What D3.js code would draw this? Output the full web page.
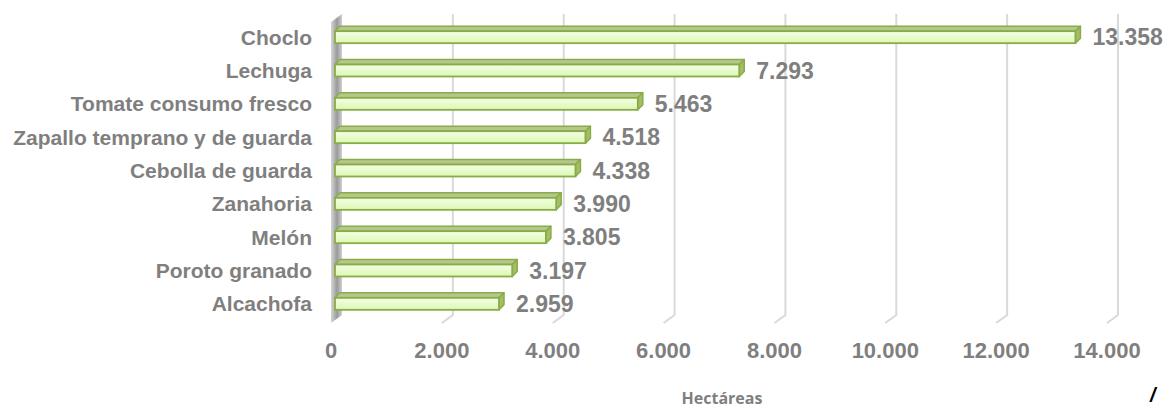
<!DOCTYPE html>
<html>
<head>
<meta charset="utf-8">
<script src="https://cdn.jsdelivr.net/npm/d3@7/dist/d3.min.js"></script>
<style>
  body { margin: 0; background: #fff; }
  svg { display: block; }
</style>
</head>
<body>
<svg id="chart"></svg>
<script>
// cultivos y superficie (ha)
var cultivos = ["Choclo", "Lechuga", "Tomate consumo fresco", "Zapallo temprano y de guarda",
  "Cebolla de guarda", "Zanahoria", "Melón", "Poroto granado", "Alcachofa"];
var hectareas = [13358, 7293, 5463, 4518, 4338, 3990, 3805, 3197, 2959];
var ticks = [0, 2000, 4000, 6000, 8000, 10000, 12000, 14000];

var width = 1165, height = 408;
var gray = "#7f7f7f";
var fmt = d3.formatLocale({decimal: ",", thousands: ".", grouping: [3]}).format(",");

var svg = d3.select("#chart").attr("width", width).attr("height", height);

var x = d3.scaleLinear().domain([0, 14000]).range([331, 1107]);
var y = d3.scaleBand().domain(cultivos).range([20.5, 320.5]).paddingInner(0.64).paddingOuter(0.32);

// profundidad de la pared del fondo y de las barras
var bdx = 11, bdy = 8, wallTop = 14, wallBottom = 315;
var dx = 5, dy = 5, off = 4;

var defs = svg.append("defs");
var wg = defs.append("linearGradient").attr("id", "wall");
wg.append("stop").attr("offset", "0%").attr("stop-color", "#d6d6d6");
wg.append("stop").attr("offset", "55%").attr("stop-color", "#9a9a9a");
wg.append("stop").attr("offset", "100%").attr("stop-color", "#cfcfcf");

var bg = defs.append("linearGradient").attr("id", "front").attr("x1", 0).attr("x2", 0).attr("y1", 0).attr("y2", 1);
bg.append("stop").attr("offset", "0%").attr("stop-color", "#f4ffe4");
bg.append("stop").attr("offset", "100%").attr("stop-color", "#dcf7b4");

// pared lateral
svg.append("path")
  .attr("d", "M" + x(0) + "," + (wallTop + bdy) + "L" + (x(0) + bdx) + "," + wallTop +
    "L" + (x(0) + bdx) + "," + wallBottom + "L" + x(0) + "," + (wallBottom + bdy) + "Z")
  .attr("fill", "url(#wall)");

// lineas de cuadricula
svg.append("g").selectAll("path")
  .data(ticks.slice(1))
  .enter().append("path")
  .attr("d", d => "M" + (x(d) + bdx) + "," + wallTop + "L" + (x(d) + bdx) + "," + wallBottom + "L" + x(d) + "," + (wallBottom + bdy))
  .attr("fill", "none")
  .attr("stroke", "#d9d9d9")
  .attr("stroke-width", 2);

// barras
var bars = svg.append("g").selectAll("g")
  .data(cultivos)
  .enter().append("g");

bars.append("path")
  .attr("d", (d, i) => {
    var x0 = x(0) + off, x1 = x(hectareas[i]) + off, y0 = y(d);
    return "M" + x0 + "," + y0 + "L" + (x0 + dx) + "," + (y0 - dy) + "L" + (x1 + dx) + "," + (y0 - dy) + "L" + x1 + "," + y0 + "Z";
  })
  .attr("fill", "#b4c78c")
  .attr("stroke", "#8aac48")
  .attr("stroke-width", 1.5)
  .attr("stroke-linejoin", "round");

bars.append("path")
  .attr("d", (d, i) => {
    var x1 = x(hectareas[i]) + off, y0 = y(d), h = y.bandwidth();
    return "M" + x1 + "," + y0 + "L" + (x1 + dx) + "," + (y0 - dy) + "L" + (x1 + dx) + "," + (y0 + h - dy) + "L" + x1 + "," + (y0 + h) + "Z";
  })
  .attr("fill", "#a3be66")
  .attr("stroke", "#8aac48")
  .attr("stroke-width", 1.5)
  .attr("stroke-linejoin", "round");

bars.append("rect")
  .attr("x", x(0) + off)
  .attr("y", d => y(d))
  .attr("width", (d, i) => x(hectareas[i]) - x(0))
  .attr("height", y.bandwidth())
  .attr("fill", "url(#front)")
  .attr("stroke", "#8aac48")
  .attr("stroke-width", 1.8);

// etiquetas de valor
bars.append("text")
  .attr("x", (d, i) => x(hectareas[i]) + 21)
  .attr("y", d => y(d) + y.bandwidth() / 2 + 8)
  .text((d, i) => fmt(hectareas[i]))
  .attr("fill", gray)
  .style("font", "bold 23px 'Liberation Sans', Arial, sans-serif");

// etiquetas de categoria
svg.append("g").selectAll("text")
  .data(cultivos)
  .enter().append("text")
  .attr("x", 312)
  .attr("y", d => y(d) + y.bandwidth() / 2 + 7.5)
  .attr("text-anchor", "end")
  .text(d => d)
  .attr("fill", gray)
  .style("font", "bold 21px 'Liberation Sans', Arial, sans-serif");

// eje x
svg.append("g").selectAll("text")
  .data(ticks)
  .enter().append("text")
  .attr("x", d => x(d))
  .attr("y", 358)
  .attr("text-anchor", "middle")
  .text(d => fmt(d))
  .attr("fill", gray)
  .style("font", "bold 22px 'Liberation Sans', Arial, sans-serif");

svg.append("text")
  .attr("x", 722)
  .attr("y", 404)
  .attr("text-anchor", "middle")
  .text("Hectáreas")
  .attr("fill", gray)
  .style("font", "bold 16px 'Open Sans', sans-serif");

svg.append("text")
  .attr("x", 1150)
  .attr("y", 402)
  .text("/")
  .attr("fill", "#000")
  .style("font", "bold italic 20px 'Liberation Sans', Arial, sans-serif");
</script>
</body>
</html>
